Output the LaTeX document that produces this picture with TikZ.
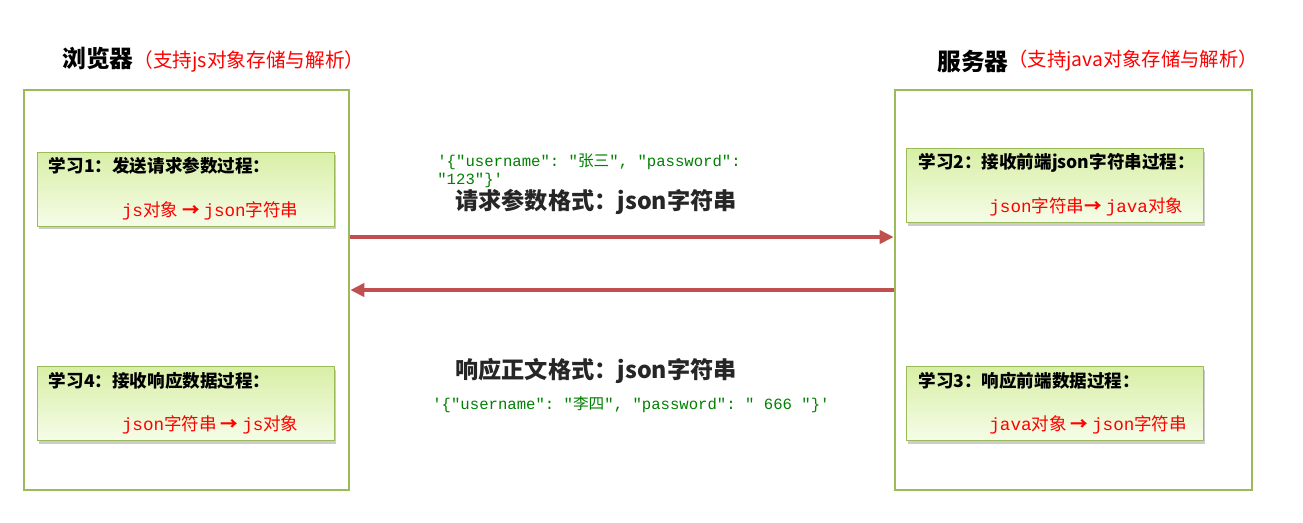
\documentclass[tikz,border=0pt]{standalone}
\usepackage{fontspec}
\setmainfont{Noto Sans CJK SC}
\setmonofont{Liberation Mono}
\usetikzlibrary{arrows.meta, positioning, calc, shadows}
\definecolor{frame}{HTML}{9BBB59}
\definecolor{flowred}{HTML}{C0504D}
\definecolor{jsongreen}{HTML}{008000}
\definecolor{boxtop}{HTML}{D8EFA6}
\definecolor{boxbot}{HTML}{F6FCE8}
\newcommand{\tc}[1]{{\ttfamily #1}}

\begin{document}
\begin{tikzpicture}[x=0.02cm, y=-0.02cm,
  side/.style={draw=frame, line width=1.5pt, minimum height=8cm},
  task/.style={draw=frame, line width=0.5pt, minimum width=5.94cm, minimum height=1.48cm, top color=boxtop, bottom color=boxbot, drop shadow={shadow xshift=1pt, shadow yshift=-1.8pt, opacity=.4}},
  tasktitle/.style={anchor=west, inner sep=0, font=\fontsize{10}{12}\selectfont\bfseries},
  taskconv/.style={anchor=west, inner sep=0, text=red, font=\fontsize{10}{12}\selectfont},
  flow/.style={draw=flowred, line width=2.2pt, -{Triangle[length=8pt, width=7.5pt]}},
  fmt/.style={anchor=west, inner sep=0, text=black!85, font=\fontsize{13.2}{15}\selectfont\bfseries},
  sample/.style={anchor=west, inner sep=0, align=left, text=jsongreen, font=\fontsize{8.9}{10.2}\selectfont}]
\useasboundingbox (0,0) rectangle (1303,522);

% two sides
\node[side, minimum width=6.5cm] (browser) at (186.5,290) {};
\node[side, minimum width=7.14cm] (server) at (1073.5,290) {};
\node[anchor=west, inner sep=0] (browserhead) at (62,60) {{\fontsize{13.5}{15}\selectfont\bfseries 浏览器}{\fontsize{11.2}{12}\selectfont\color{red}（支持js对象存储与解析）}};
\node[anchor=west, inner sep=0] (serverhead) at (937,61) {{\fontsize{13.5}{15}\selectfont\bfseries 服务器}\raisebox{2pt}{\fontsize{11}{12}\selectfont\color{red}（支持java对象存储与解析）}};

% steps
\node[task] (step1) at (185.5,189) {};
\node[task] (step2) at (1055,185.5) {};
\node[task] (step3) at (1055,403.5) {};
\node[task] (step4) at (185.5,403.5) {};
\node[tasktitle] (title1) at ([shift={(12,14)}]step1.north west) {学习1：发送请求参数过程：};
\node[taskconv] (conv1) at ([shift={(85,-16)}]step1.south west) {\tc{js}对象 {\bfseries →} \tc{json}字符串};
\node[tasktitle] (title2) at ([shift={(12,15)}]step2.north west) {学习2：接收前端json字符串过程：};
\node[taskconv] (conv2) at ([shift={(83,-16)}]step2.south west) {\tc{json}字符串{\bfseries →} \tc{java}对象};
\node[tasktitle] (title3) at ([shift={(12,15)}]step3.north west) {学习3：响应前端数据过程：};
\node[taskconv] (conv3) at ([shift={(83,-16)}]step3.south west) {\tc{java}对象 {\bfseries →} \tc{json}字符串};
\node[tasktitle] (title4) at ([shift={(12,15)}]step4.north west) {学习4：接收响应数据过程：};
\node[taskconv] (conv4) at ([shift={(85,-16)}]step4.south west) {\tc{json}字符串 {\bfseries →} \tc{js}对象};

% request / response
\node[sample] (reqjson) at (437,171) {\tc{'\{"username": "}张三\tc{", "password":}\\\tc{"123"\}'}};
\node[fmt] (reqfmt) at (455,202) {请求参数格式：json字符串};
\node[fmt] (respfmt) at (455,371) {响应正文格式：json字符串};
\node[sample] (respjson) at (432,405) {\tc{'\{"username": "}李四\tc{", "password": " 666 "\}'}};
\draw[flow] ([yshift=1.06cm]browser.east) -- ([yshift=1.06cm]server.west);
\draw[flow] (server.west) -- (browser.east);
\end{tikzpicture}
\end{document}
